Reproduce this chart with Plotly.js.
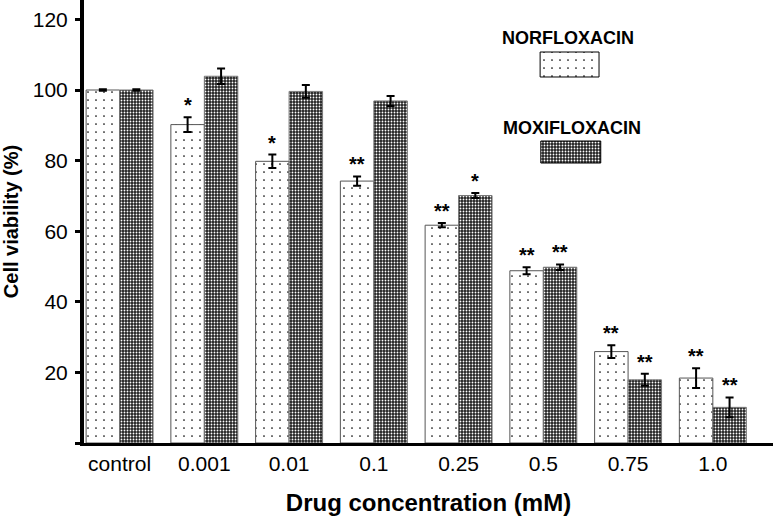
<!DOCTYPE html>
<html>
<head>
<meta charset="utf-8">
<script src="https://cdn.plot.ly/plotly-3.0.1.min.js"></script>
<style>html,body{margin:0;padding:0;background:#fff;}#chart{width:774px;height:517px;}</style>
</head>
<body>
<div id="chart"></div>
<script>
// ---- data ----
var categories = ['control', '0.001', '0.01', '0.1', '0.25', '0.5', '0.75', '1.0'];
var norValues = [100, 90.2, 79.8, 74.2, 61.7, 48.8, 25.9, 18.4];
var norErrors = [0.2, 2.1, 1.9, 1.3, 0.6, 1.0, 1.8, 2.8];
var moxValues = [100, 103.9, 99.6, 96.9, 70.1, 49.8, 17.9, 10.1];
var moxErrors = [0.2, 2.2, 1.8, 1.4, 0.7, 0.8, 1.7, 2.8];
var norSig = ['', '*', '*', '**', '**', '**', '**', '**'];
var moxSig = ['', '', '', '', '*', '**', '**', '**'];
var yTickVals = [0, 20, 40, 60, 80, 100, 120];
var yTickText = ['', '20', '40', '60', '80', '100', '120'];
var seriesNames = ['NORFLOXACIN', 'MOXIFLOXACIN'];

// ---- style ----
var FONT = 'Liberation Sans, Arial, Helvetica, sans-serif';
var bargap = 0.21;
var norPattern = {shape: '.', size: 8, solidity: 0.035, fgcolor: '#000', bgcolor: '#fff', fillmode: 'replace'};
var moxPattern = {shape: '.', size: 3, solidity: 0.3, fgcolor: '#fff', bgcolor: '#222', fillmode: 'replace'};

var errStyle = {type: 'data', color: '#000', thickness: 2, width: 4, visible: true};

var traces = [
  {type: 'bar', x: categories, y: norValues, name: seriesNames[0],
   marker: {color: '#fff', pattern: norPattern, line: {color: '#555', width: 1}},
   error_y: Object.assign({array: norErrors}, errStyle), showlegend: false, hoverinfo: 'skip'},
  {type: 'bar', x: categories, y: moxValues, name: seriesNames[1],
   marker: {color: '#222', pattern: moxPattern, line: {color: '#777', width: 1}},
   error_y: Object.assign({array: moxErrors}, errStyle), showlegend: false, hoverinfo: 'skip'}
];

// legend swatches drawn on an overlay axis in plot-fraction units
var legendBoxes = [
  {x0: 0.662, x1: 0.7475, y0: 0.8262, y1: 0.8826, pattern: norPattern, color: '#fff'},
  {x0: 0.663, x1: 0.750, y0: 0.632, y1: 0.6817, pattern: moxPattern, color: '#222'}
];
legendBoxes.forEach(function (b) {
  traces.push({type: 'bar', xaxis: 'x2', yaxis: 'y2',
    x: [(b.x0 + b.x1) / 2], y: [b.y1 - b.y0], base: [b.y0], width: [b.x1 - b.x0],
    marker: {color: b.color, pattern: b.pattern, line: {color: '#000', width: 1}},
    showlegend: false, hoverinfo: 'skip'});
});

var annotations = [];
var off = (1 - bargap) / 4;
var starFont = {family: FONT, size: 20, color: '#000', weight: 'bold'};
categories.forEach(function (c, i) {
  if (norSig[i]) annotations.push({x: i - off, y: norValues[i] + norErrors[i], xref: 'x', yref: 'y',
    text: norSig[i], showarrow: false, xanchor: 'center', yanchor: 'bottom', yshift: -1, font: starFont});
  if (moxSig[i]) annotations.push({x: i + off, y: moxValues[i] + moxErrors[i], xref: 'x', yref: 'y',
    text: moxSig[i], showarrow: false, xanchor: 'center', yanchor: 'bottom', yshift: -1, font: starFont});
});
annotations.push({x: 0.7025, y: 0.914, xref: 'paper', yref: 'paper', text: '<b>' + seriesNames[0] + '</b>',
  showarrow: false, xanchor: 'center', yanchor: 'middle', font: {family: FONT, size: 18, color: '#000'}});
annotations.push({x: 0.708, y: 0.711, xref: 'paper', yref: 'paper', text: '<b>' + seriesNames[1] + '</b>',
  showarrow: false, xanchor: 'center', yanchor: 'middle', font: {family: FONT, size: 18, color: '#000'}});

var layout = {
  width: 774, height: 517,
  margin: {l: 84, r: 1, t: 0, b: 74, pad: 0},
  paper_bgcolor: '#fff', plot_bgcolor: '#fff',
  font: {family: FONT, color: '#000'},
  barmode: 'group', bargap: bargap, bargroupgap: 0,
  showlegend: false,
  xaxis: {type: 'category', range: [-0.42, 7.71], showline: true, linecolor: '#000', linewidth: 3,
    ticks: '', showgrid: false, zeroline: false, tickfont: {family: FONT, size: 21, color: '#000'},
    title: {text: '<b>Drug concentration (mM)</b>', font: {family: FONT, size: 24, color: '#000'}, standoff: 20},
    automargin: false, fixedrange: true},
  yaxis: {range: [0, 125.5], tickvals: yTickVals, ticktext: yTickText, showline: true, linecolor: '#000', linewidth: 4,
    ticks: 'outside', ticklen: 5, tickwidth: 3, tickcolor: '#000', showgrid: false, zeroline: false,
    tickfont: {family: FONT, size: 21, color: '#000'}, ticklabelstandoff: 3,
    title: {text: '<b>Cell viability (%)</b>', font: {family: FONT, size: 20, color: '#000'}, standoff: 14},
    automargin: false, fixedrange: true},
  xaxis2: {domain: [0, 1], anchor: 'y2', overlaying: 'x', range: [0, 1], visible: false, fixedrange: true},
  yaxis2: {domain: [0, 1], anchor: 'x2', overlaying: 'y', range: [0, 1], visible: false, fixedrange: true},
  annotations: annotations
};

Plotly.newPlot('chart', traces, layout, {staticPlot: true, displayModeBar: false});
</script>
</body>
</html>
